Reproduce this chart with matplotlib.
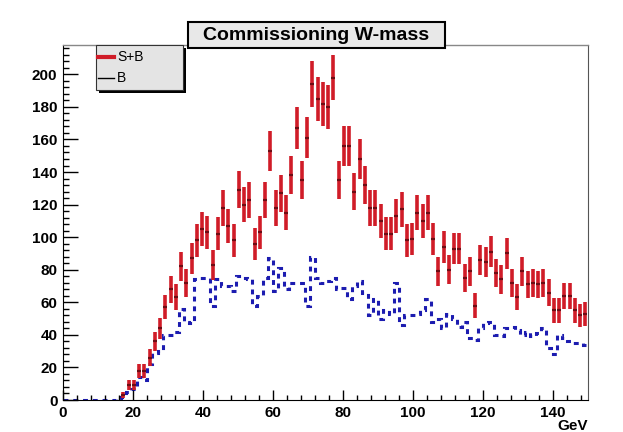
import numpy as np
import matplotlib
matplotlib.use("Agg")
from matplotlib import pyplot as plt
from matplotlib.patches import Rectangle
from matplotlib.lines import Line2D
from matplotlib.ticker import MultipleLocator

plt.rcParams['font.family'] = ['Liberation Sans', 'DejaVu Sans']

# W transverse mass, 100 bins of 1.5 GeV between 0 and 150
n_bins = 100
x_lo, x_hi = 0, 150

# signal + background counts per bin
sb_counts = [
    0, 0, 0, 0, 0, 0, 0, 0, 0, 0,
    0, 3, 9, 9, 18, 18, 26, 36, 44, 57,
    68, 63, 82, 72, 87, 98, 105, 103, 83, 102,
    118, 107, 98, 129, 120, 123, 96, 103, 123, 153,
    118, 127, 115, 138, 167, 135, 161, 194, 185, 182,
    180, 198, 135, 156, 156, 128, 148, 132, 118, 118,
    110, 102, 102, 113, 117, 98, 99, 115, 110, 115,
    99, 79, 94, 80, 93, 93, 75, 79, 58, 86,
    85, 91, 78, 74, 90, 72, 63, 79, 71, 72,
    71, 72, 66, 55, 55, 64, 64, 55, 52, 53,
]

# background only
b_counts = [
    0, 0, 0, 0, 0, 0, 0, 0, 0, 0,
    1, 2, 5, 7, 14, 12, 22, 29, 30, 40,
    40, 42, 56, 48, 47, 74, 75, 75, 58, 74,
    70, 70, 67, 76, 75, 74, 58, 64, 75, 87,
    67, 81, 68, 72, 72, 72, 58, 88, 75, 72,
    73, 75, 68, 69, 62, 70, 73, 66, 52, 62,
    50, 55, 53, 72, 46, 52, 52, 53, 55, 62,
    48, 50, 44, 53, 50, 45, 48, 38, 37, 44,
    47, 48, 40, 39, 44, 45, 43, 40, 42, 39,
    41, 44, 32, 28, 40, 38, 36, 35, 35, 34,
]

title = "Commissioning W-mass"
legend_labels = ["S+B", "B"]
x_unit = "GeV"

W, H = 623, 432
fig = plt.figure(figsize=(W / 100, H / 100), dpi=100)
fig.patch.set_facecolor("white")


def fp(x, y):
    # pixel position (from top-left) -> figure fraction
    return x / W, 1 - y / H


ax_l, ax_r, ax_t, ax_b = 63, 588, 45, 400
ax = fig.add_axes([ax_l / W, 1 - ax_b / H, (ax_r - ax_l) / W, (ax_b - ax_t) / H])

edges = np.linspace(x_lo, x_hi, n_bins + 1)
centers = 0.5 * (edges[:-1] + edges[1:])
sb = np.array(sb_counts, dtype=float)
b = np.array(b_counts, dtype=float)

# background as dashed blue step line
ax.stairs(b, edges, color="#1c1cb0", linewidth=2.2, linestyle=(0, (1.6, 1.6)),
          baseline=None)

# signal+background with sqrt(N) errors, empty bins skipped
m = sb > 0
ax.errorbar(centers[m], sb[m], yerr=np.sqrt(sb[m]), fmt="none",
            ecolor="#d01c28", elinewidth=2.6, capsize=0, zorder=3)
ax.hlines(sb[m], edges[:-1][m] + 0.15, edges[1:][m] - 0.15,
          color="#6e0c14", linewidth=1.6, zorder=4)

ax.set_xlim(x_lo, x_hi)
ax.set_ylim(0, 218)

ax.xaxis.set_major_locator(MultipleLocator(20))
ax.xaxis.set_minor_locator(MultipleLocator(4))
ax.yaxis.set_major_locator(MultipleLocator(20))
ax.yaxis.set_minor_locator(MultipleLocator(4))
ax.tick_params(axis="y", which="major", direction="in", length=11, width=1)
ax.tick_params(axis="y", which="minor", direction="in", length=4.5, width=1)
ax.tick_params(axis="x", which="major", direction="in", length=7, width=1)
ax.tick_params(axis="x", which="minor", direction="in", length=3.5, width=1)
ax.tick_params(axis="both", labelsize=11, pad=4)
for lab in ax.get_xticklabels() + ax.get_yticklabels():
    lab.set_fontweight("bold")

ax.spines["left"].set_color("black")
ax.spines["bottom"].set_color("black")
ax.spines["top"].set_color("#888888")
ax.spines["right"].set_color("#555555")
ax.spines["top"].set_linewidth(1.0)

fig.text(*fp(588, 426), x_unit, ha="right", va="center", fontsize=11,
         fontweight="bold")

# title box
tx, ty = fp(188, 48)
fig.add_artist(Rectangle((tx, ty), 257 / W, 26 / H, transform=fig.transFigure,
                         facecolor="#e8e8e8", edgecolor="black", linewidth=1.5,
                         zorder=5))
fig.text(*fp(316, 35.5), title, ha="center", va="center", fontsize=14,
         fontweight="bold", zorder=6)

# legend box with drop shadow
lx, ly = fp(96, 90)
fig.add_artist(Rectangle((lx + 3 / W, ly - 3 / H), 87 / W, 45 / H,
                         transform=fig.transFigure, facecolor="black",
                         edgecolor="none", zorder=5))
fig.add_artist(Rectangle((lx, ly), 87 / W, 45 / H, transform=fig.transFigure,
                         facecolor="#e4e4e4", edgecolor="#333333",
                         linewidth=0.8, zorder=6))
for yy, lab, col, lw in [(57, legend_labels[0], "#d01c28", 3.0),
                         (78, legend_labels[1], "black", 1.0)]:
    x0, y0 = fp(98, yy)
    x1, _ = fp(114, yy)
    fig.add_artist(Line2D([x0, x1], [y0, y0], transform=fig.transFigure,
                          color=col, linewidth=lw, zorder=7))
    fig.text(*fp(117, yy), lab, ha="left", va="center", fontsize=10, zorder=7)

fig.savefig("out.png", dpi=100)
